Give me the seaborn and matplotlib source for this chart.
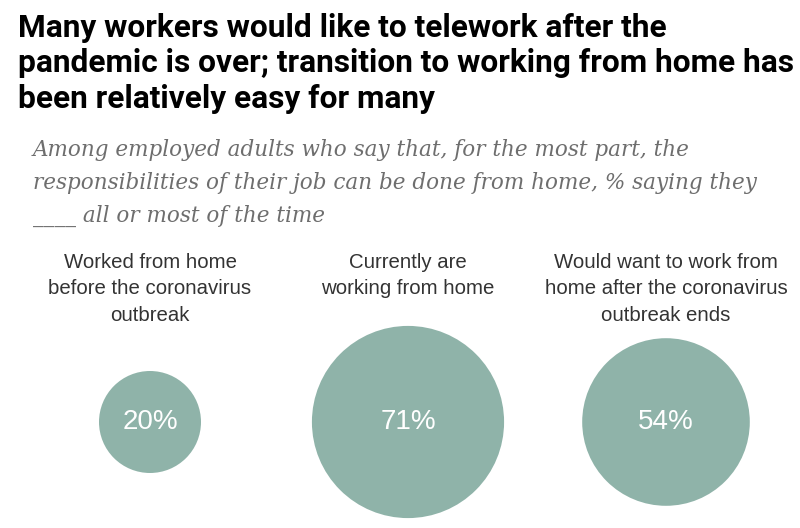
import matplotlib
matplotlib.use("Agg")
import matplotlib.pyplot as plt
import matplotlib.transforms as mtransforms
import pandas as pd
import seaborn as sns

# Texts
title_lines = [
    "Many workers would like to telework after the",
    "pandemic is over; transition to working from home has",
    "been relatively easy for many",
]
subtitle_lines = [
    "Among employed adults who say that, for the most part, the",
    "responsibilities of their job can be done from home, % saying they",
    "____ all or most of the time",
]
category_lines = [
    ["Worked from home", "before the coronavirus", "outbreak"],
    ["Currently are", "working from home"],
    ["Would want to work from", "home after the coronavirus", "outbreak ends"],
]
values = [20, 71, 54]

teal = "#8fb3a9"
W, H = 800, 528

df = pd.DataFrame({"pos": range(len(values)), "y": [0] * len(values), "value": values})

sns.set_style("white")
fig = plt.figure(figsize=(W / 100, H / 100), dpi=100)
ax = fig.add_axes([0, 0, 1, 212 / H])

# bubble area proportional to value (20% -> ~102 px wide)
k = (102 * 0.72) ** 2 / 20
vmin, vmax = min(values), max(values)
sns.scatterplot(data=df, x="pos", y="y", size="value",
                sizes=(vmin * k, vmax * k), size_norm=(vmin, vmax),
                color=teal, edgecolor="none", alpha=1, linewidth=0,
                legend=False, ax=ax, clip_on=False)

# place category 0 at x=150px, category 2 at x=666px
step = (666 - 150) / 2
ax.set_xlim(-150 / step, (W - 150) / step)
ax.set_ylim(-1, 1)
ax.axis("off")

for i, v in enumerate(values):
    ax.text(i, 0, f"{v}%", ha="center", va="center", color="white",
            fontsize=20, family="Liberation Sans")

# category labels above the bubbles
blend = mtransforms.blended_transform_factory(ax.transData, fig.transFigure)
for i, lines in enumerate(category_lines):
    for j, line in enumerate(lines):
        ax.text(i, 1 - (268 + j * 26.5) / H, line, transform=blend,
                ha="center", va="baseline", color="#333333",
                fontsize=14.7, family="Liberation Sans")

# title
for j, line in enumerate(title_lines):
    fig.text(18 / W, 1 - (37 + j * 35.5) / H, line, ha="left", va="baseline",
             fontsize=22.8, fontweight="bold", color="black", family="Roboto")

# subtitle
for j, line in enumerate(subtitle_lines):
    fig.text(33 / W, 1 - (156 + j * 33) / H, line, ha="left", va="baseline",
             fontsize=15.5, style="italic", color="#6e6e6e", family="DejaVu Serif")

fig.savefig("out.png", dpi=100)
